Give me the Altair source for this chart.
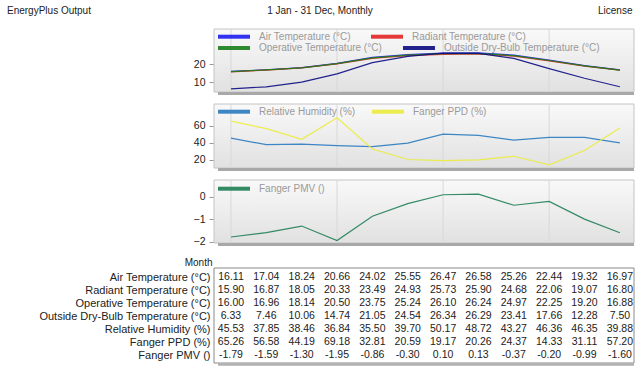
import altair as alt
import pandas as pd

# ---------------- data ----------------
months = ["Jan", "Feb", "Mar", "Apr", "May", "Jun", "Jul", "Aug", "Sep", "Oct", "Nov", "Dec"]
month_idx = list(range(12))

air = [16.11, 17.04, 18.24, 20.66, 24.02, 25.55, 26.47, 26.58, 25.26, 22.44, 19.32, 16.97]
radiant = [15.90, 16.87, 18.05, 20.33, 23.49, 24.93, 25.73, 25.90, 24.68, 22.06, 19.07, 16.80]
operative = [16.00, 16.96, 18.14, 20.50, 23.75, 25.24, 26.10, 26.24, 24.97, 22.25, 19.20, 16.88]
outside = [6.33, 7.46, 10.06, 14.74, 21.05, 24.54, 26.34, 26.29, 23.41, 17.66, 12.28, 7.50]
rh = [45.53, 37.85, 38.46, 36.84, 35.50, 39.70, 50.17, 48.72, 43.27, 46.36, 46.35, 39.88]
ppd = [65.26, 56.58, 44.19, 69.18, 32.81, 20.59, 19.17, 20.26, 24.37, 14.33, 31.11, 57.20]
pmv = [-1.79, -1.59, -1.30, -1.95, -0.86, -0.30, 0.10, 0.13, -0.37, -0.20, -0.99, -1.60]

x_tick_values = [0, 3, 6, 9]
x_tick_labels = ["2002", "Apr", "Jul", "Oct"]

temp_series = ["Air Temperature (°C)", "Radiant Temperature (°C)",
               "Operative Temperature (°C)", "Outside Dry-Bulb Temperature (°C)"]
temp_colors = ["#1c1cf0", "#e42424", "#1a7f1a", "#0c0c82"]
hum_series = ["Relative Humidity (%)", "Fanger PPD (%)"]
hum_colors = ["#2b7bbf", "#ecec3c"]
pmv_series = ["Fanger PMV ()"]
pmv_colors = ["#1f8055"]

temp_ticks = [10, 20]
hum_ticks = [20, 40, 60]
pmv_ticks = [-2, -1, 0]

table_rows = temp_series + hum_series + pmv_series
table_values = [air, radiant, operative, outside, rh, ppd, pmv]

header_left = "EnergyPlus Output"
header_center = "1 Jan - 31 Dec, Monthly"
header_right = "License"
month_title = "Month"

# ---------------- layout constants ----------------
W = 420
XDOM = [-0.48, 11.4]
FONT = "Liberation Sans"

xscale = alt.Scale(domain=XDOM, nice=False, zero=False)
label_expr = " : ".join(
    f"datum.value == {v} ? '{l}'" for v, l in zip(x_tick_values, x_tick_labels)
) + " : ''"

one = pd.DataFrame({"k": [0]})
grid_df = pd.DataFrame({"g": x_tick_values})

gradient = {
    "gradient": "linear",
    "stops": [{"offset": 0, "color": "#f9f9f9"}, {"offset": 1, "color": "#e1e1e1"}],
    "x1": 0, "x2": 0, "y1": 0, "y2": 1,
}


def long_df(names, series_list, field):
    rows = []
    for n, vals in zip(names, series_list):
        for i, v in zip(month_idx, vals):
            rows.append({"m": i, "v": v, field: n})
    return pd.DataFrame(rows)


def legend(lx, ly, cpad):
    return alt.Legend(
        orient="none", legendX=lx, legendY=ly, columns=2,
        direction="horizontal", symbolType="stroke", symbolSize=1024,
        symbolStrokeWidth=4, labelFontSize=10, labelColor="#9a9a9a",
        labelOffset=7, columnPadding=cpad, rowPadding=0, title=None,
        padding=0, labelLimit=300, labelFont=FONT,
    )


def panel(groups, ydom, yticks, H, show_x=False, extra=None):
    bg = alt.Chart(one).mark_rect(fill=gradient, stroke="#c4c4c4", strokeWidth=1).encode(
        x=alt.value(0), x2=alt.value(W), y=alt.value(0), y2=alt.value(H)
    )
    grid = alt.Chart(grid_df).mark_rule(color="#d8d8d8", strokeWidth=1).encode(
        x=alt.X("g:Q", scale=xscale, axis=None)
    )
    shadow = alt.Chart(one).mark_rule(color="#a8a8a8", strokeWidth=3).encode(
        x=alt.value(4), x2=alt.value(W), y=alt.value(H + 1.5)
    )
    if show_x:
        xaxis = alt.Axis(values=x_tick_values, labelExpr=label_expr, ticks=False,
                         domain=False, grid=False, labelPadding=7, labelFontSize=10,
                         labelColor="#222", title=None, labelFont=FONT)
    else:
        xaxis = None
    yaxis = alt.Axis(values=yticks, tickSize=5, tickColor="#9a9a9a",
                     domain=False, grid=False, labelFontSize=10.5,
                     labelColor="#222", labelPadding=4, title=None, labelFont=FONT)
    line_layers = []
    for df, field, names, colors, leg in groups:
        line_layers.append(
            alt.Chart(df).mark_line(strokeWidth=1.2, opacity=0.9).encode(
                x=alt.X("m:Q", scale=xscale, axis=xaxis),
                y=alt.Y("v:Q", scale=alt.Scale(domain=ydom, nice=False, zero=False),
                        axis=yaxis),
                color=alt.Color(f"{field}:N", scale=alt.Scale(domain=names, range=colors),
                                legend=leg),
            )
        )
    layers = [bg, grid] + line_layers + [shadow]
    if extra:
        layers += extra
    ch = alt.layer(*layers).properties(width=W, height=H)
    if len(groups) > 1:
        ch = ch.resolve_scale(color="independent").resolve_legend(color="independent")
    return ch


# header texts (drawn above panel 1)
hdr = [
    alt.Chart(one).mark_text(align="left", baseline="middle", fontSize=10, color="#222", font=FONT).encode(
        x=alt.value(-207), y=alt.value(-18), text=alt.value(header_left)),
    alt.Chart(one).mark_text(align="center", baseline="middle", fontSize=10, color="#222", font=FONT).encode(
        x=alt.value(106), y=alt.value(-18), text=alt.value(header_center)),
    alt.Chart(one).mark_text(align="left", baseline="middle", fontSize=10, color="#222", font=FONT).encode(
        x=alt.value(384), y=alt.value(-18), text=alt.value(header_right)),
]

p1 = panel(
    [
        (long_df(temp_series[:2], [air, radiant], "s1a"), "s1a", temp_series[:2], temp_colors[:2],
         legend(2, -10.3, 12)),
        (long_df(temp_series[2:], [operative, outside], "s1b"), "s1b", temp_series[2:], temp_colors[2:],
         legend(2, 1.0, 13)),
    ],
    [4.55, 39.94], temp_ticks, 63, extra=hdr)
p2 = panel(
    [(long_df(hum_series, [rh, ppd], "s2"), "s2", hum_series, hum_colors, legend(2, -10.3, 8))],
    [10.67, 85.3], hum_ticks, 64)
p3 = panel(
    [(long_df(pmv_series, [pmv], "s3"), "s3", pmv_series, pmv_colors, legend(2, -9.3, 10))],
    [-2.058, 0.76], pmv_ticks, 63, show_x=True)

# ---------------- table ----------------
trows = []
for name, vals in zip(table_rows, table_values):
    for i, v in zip(month_idx, vals):
        trows.append({"row": name, "m": i, "txt": f"{v:.2f}"})
tdf = pd.DataFrame(trows)

TH = 111
box = alt.Chart(one).mark_rect(fill="white", stroke="#8a8a8a", strokeWidth=1).encode(
    x=alt.value(0), x2=alt.value(W), y=alt.value(13), y2=alt.value(108))
tshadow = alt.Chart(one).mark_rule(color="#b0b0b0", strokeWidth=2.5).encode(
    x=alt.value(4), x2=alt.value(W), y=alt.value(109.5))
ttext = alt.Chart(tdf).mark_text(fontSize=10.5, color="#222", align="center",
                                 baseline="middle", font=FONT).encode(
    x=alt.X("m:Q", scale=xscale, axis=None),
    y=alt.Y("row:N", scale=alt.Scale(type="point", domain=table_rows, range=[22, 100], padding=0),
            axis=alt.Axis(ticks=False, domain=False, labelPadding=4, labelFontSize=11,
                          labelColor="#222", title=None, labelLimit=400, labelFont=FONT)),
    text="txt:N",
)
mlabel = alt.Chart(one).mark_text(align="right", baseline="middle", fontSize=10,
                                  color="#222", font=FONT).encode(
    x=alt.value(-1.5), y=alt.value(7.5), text=alt.value(month_title))
table = alt.layer(box, tshadow, ttext, mlabel).properties(width=W, height=TH)

chart = (
    alt.vconcat(p1, p2, p3, table, spacing=12, bounds="flush")
    .resolve_scale(x="independent", y="independent", color="independent")
    .resolve_legend(color="independent")
    .properties(padding={"left": 7, "top": 6, "right": 0, "bottom": 0}, background="white")
    .configure(font=FONT)
    .configure_view(stroke=None)
)

chart.save("out.html", embed_options={"renderer": "svg", "actions": False})
